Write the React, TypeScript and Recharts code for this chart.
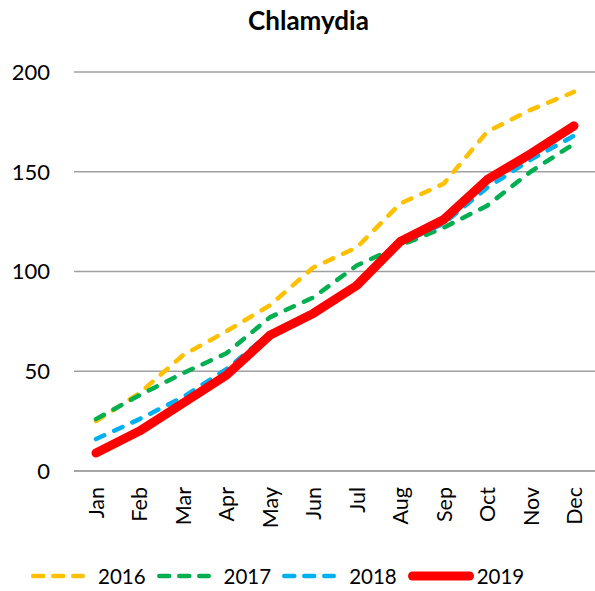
import React from "react";
import {
  LineChart,
  Line,
  XAxis,
  YAxis,
  CartesianGrid,
  Legend,
} from "recharts";

const months = ["Jan", "Feb", "Mar", "Apr", "May", "Jun", "Jul", "Aug", "Sep", "Oct", "Nov", "Dec"];
const y2016 = [25, 39, 58, 70, 83, 102, 112, 134, 144, 170, 181, 190];
const y2017 = [26, 38, 49, 59, 77, 87, 103, 113, 122, 133, 150, 164];
const y2018 = [16, 26, 37, 51, 69, 80, 92, 114, 124, 142, 156, 168];
const y2019 = [9, 20, 34, 48, 68, 79, 93, 115, 126, 146, 159, 173];
const yTicks = [0, 50, 100, 150, 200];

const data = months.map((m, i) => ({
  month: m,
  "2016": y2016[i],
  "2017": y2017[i],
  "2018": y2018[i],
  "2019": y2019[i],
}));

const FONT = "Lato, 'Liberation Sans', sans-serif";

const series = [
  { key: "2016", color: "#FFC000", width: 4.5, dash: "9 11" },
  { key: "2017", color: "#00B050", width: 4.5, dash: "9 11" },
  { key: "2018", color: "#00B0F0", width: 4.5, dash: "9 11" },
  { key: "2019", color: "#FF0000", width: 9, dash: undefined },
];

const MonthTick = (props: any) => {
  const { x, y, payload } = props;
  const ty = y + 8;
  return (
    <text
      x={x}
      y={ty}
      transform={`rotate(-90 ${x} ${ty})`}
      textAnchor="end"
      dominantBaseline="central"
      fill="#000"
      fontSize={21.5}
      fontFamily={FONT}
    >
      {payload.value}
    </text>
  );
};

const renderLegend = () => (
  <div
    style={{
      display: "flex",
      alignItems: "center",
      paddingLeft: 30,
      height: 30,
      fontFamily: FONT,
      fontSize: 20.5,
      color: "#000",
    }}
  >
    {series.map((s) => (
      <div key={s.key} style={{ display: "flex", alignItems: "center", marginRight: s.key === "2019" ? 0 : 10 }}>
        <svg width={s.key === "2019" ? 68 : 56} height={14}>
          <line
            x1={s.width / 2 + 1}
            y1={7}
            x2={(s.key === "2019" ? 68 : 56) - s.width / 2 - 1}
            y2={7}
            stroke={s.color}
            strokeWidth={s.width}
            strokeLinecap="round"
            strokeDasharray={s.dash ? "10 10" : undefined}
          />
        </svg>
        <span style={{ marginLeft: s.key === "2019" ? 2 : 12 }}>{s.key}</span>
      </div>
    ))}
  </div>
);

export default function App() {
  return (
    <div style={{ position: "absolute", left: 0, top: 0, width: 595, height: 591, background: "#fff" }}>
      <div
        style={{
          position: "absolute",
          top: 4,
          left: 0,
          width: 617,
          textAlign: "center",
          fontFamily: FONT,
          fontWeight: 700,
          fontSize: 26,
          color: "#000",
        }}
      >
        Chlamydia
      </div>
      <LineChart width={595} height={591} data={data} margin={{ top: 72, right: 0, left: 0, bottom: 0 }}>
        <CartesianGrid vertical={false} stroke="#a0a0a0" strokeWidth={1.5} />
        <XAxis
          dataKey="month"
          interval={0}
          tickLine={false}
          axisLine={{ stroke: "#a0a0a0", strokeWidth: 1.5 }}
          height={90}
          padding={{ left: 22, right: 21 }}
          tick={<MonthTick />}
        />
        <YAxis
          domain={[0, 200]}
          ticks={yTicks}
          width={74}
          tickLine={false}
          axisLine={false}
          tickMargin={18}
          tick={{ fill: "#000", fontSize: 22, fontFamily: FONT }}
        />
        <Legend verticalAlign="bottom" height={30} content={renderLegend} />
        {series.map((s) => (
          <Line
            key={s.key}
            type="linear"
            dataKey={s.key}
            stroke={s.color}
            strokeWidth={s.width}
            strokeDasharray={s.dash}
            strokeLinecap="round"
            strokeLinejoin="round"
            dot={false}
            activeDot={false}
            isAnimationActive={false}
          />
        ))}
      </LineChart>
    </div>
  );
}
